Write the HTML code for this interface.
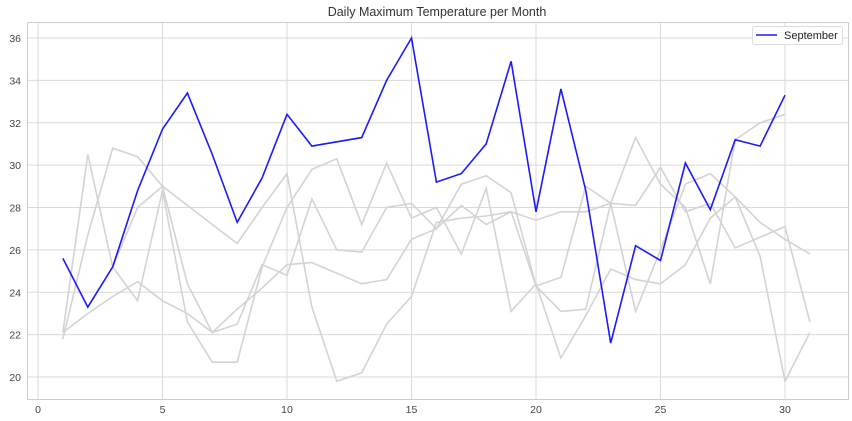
<!DOCTYPE html>
<html><head><meta charset="utf-8">
<style>
html,body{margin:0;padding:0;background:#fff;}
svg{display:block;font-family:"Liberation Sans","DejaVu Sans",sans-serif;}
</style></head>
<body>
<svg id="c" width="852" height="421" viewBox="0 0 852 421" xmlns="http://www.w3.org/2000/svg">
<rect x="0" y="0" width="852" height="421" fill="#fff"/>
<g id="grid"></g>
<g id="gray" fill="none" stroke="#d3d3d3" stroke-width="1.6"></g>
<g id="blue" fill="none" stroke="#1a1aff" stroke-width="1.6"></g>
<rect x="27.5" y="22.5" width="821" height="377" fill="none" stroke="#cccccc" stroke-width="1"/>
<text x="437" y="16" text-anchor="middle" font-size="12.5" fill="#333">Daily Maximum Temperature per Month</text>
<g id="ticks" font-size="10.5" fill="#444"></g>
<rect x="752.5" y="26.5" width="90" height="18" rx="2" fill="#fff" stroke="#dddddd"/>
<line x1="756" y1="35" x2="777" y2="35" stroke="#1a1aff" stroke-width="1.6"/>
<text x="784" y="39" font-size="11" fill="#222">September</text>
</svg>
<script>
var X=function(d){return 38+d*24.9;};
var Y=function(v){return 38+(36-v)*21.19;};
var ns="http://www.w3.org/2000/svg";
function el(p,t,a,txt){var e=document.createElementNS(ns,t);for(var k in a)e.setAttribute(k,a[k]);if(txt)e.textContent=txt;document.getElementById(p).appendChild(e);}
for(var d=0;d<=30;d+=5){el("grid","line",{x1:X(d),x2:X(d),y1:22,y2:399,stroke:"#d9d9d9","stroke-width":1});el("ticks","text",{x:X(d),y:413,"text-anchor":"middle"},""+d);}
for(var v=20;v<=36;v+=2){el("grid","line",{x1:27,x2:848,y1:Y(v),y2:Y(v),stroke:"#d9d9d9","stroke-width":1});el("ticks","text",{x:21,y:Y(v)+4,"text-anchor":"end"},""+v);}
var grays=[
[21.8,26.7,30.8,30.4,29.0,28.1,27.2,26.3,28.0,29.6,23.3,19.8,20.2,22.5,23.8,27.3,27.5,27.6,27.8,27.4,27.8,27.8,28.2,28.1,29.9,27.8,28.2,26.1,26.6,27.1,22.6],
[22.1,30.5,25.2,23.6,28.8,22.6,20.7,20.7,25.2,28.0,29.8,30.3,27.2,30.1,27.5,28.0,25.8,28.9,23.1,24.4,20.9,22.9,25.1,24.6,24.4,25.3,27.5,28.5,25.7,19.8,22.1],
[22.1,23.0,23.8,24.5,23.6,23.0,22.1,23.2,24.2,25.3,25.4,24.9,24.4,24.6,26.5,27.0,28.1,27.2,27.8,24.3,23.1,23.2,28.2,23.1,26.0,29.1,29.6,28.5,27.3,26.5,25.8],
[null,null,25.2,28.0,29.0,24.4,22.1,22.5,25.3,24.8,28.4,26.0,25.9,28.0,28.2,27.0,29.1,29.5,28.7,24.3,24.7,29.0,28.2,31.3,29.1,28.0,24.4,31.2,32.0,32.4,null]
];
grays.forEach(function(s){var p=[];s.forEach(function(v,i){if(v!==null)p.push(X(i+1).toFixed(1)+","+Y(v).toFixed(1));});el("gray","polyline",{points:p.join(" ")});});
var sep=[25.6,23.3,25.2,28.8,31.7,33.4,30.5,27.3,29.4,32.4,30.9,31.1,31.3,34.0,36.0,29.2,29.6,31.0,34.9,27.8,33.6,28.8,21.6,26.2,25.5,30.1,27.9,31.2,30.9,33.3];
el("blue","polyline",{points:sep.map(function(v,i){return X(i+1).toFixed(1)+","+Y(v).toFixed(1);}).join(" ")});
</script>
</body></html>
